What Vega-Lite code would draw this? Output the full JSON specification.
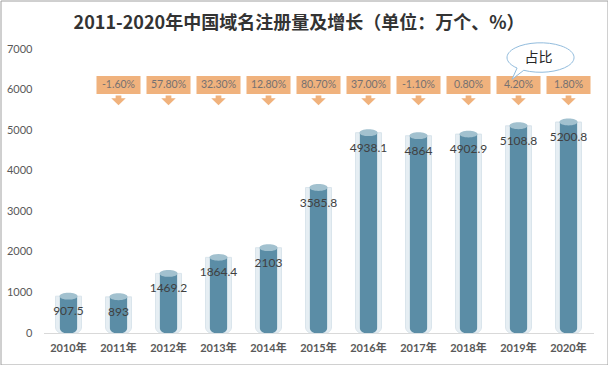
{
  "$schema": "https://vega.github.io/schema/vega-lite/v6.json",
  "width": 607,
  "height": 364,
  "autosize": {"type": "none"},
  "padding": 0.5,
  "background": "white",
  "config": {"view": {"stroke": "#A0A0A0", "strokeWidth": 1}, "font": "Lato"},
  "title": {
    "text": "2011-2020年中国域名注册量及增长（单位：万个、%）",
    "font": "Noto Sans CJK SC",
    "fontSize": 18,
    "fontWeight": "bold",
    "color": "#333333",
    "anchor": "middle",
    "frame": "group",
    "offset": -32,
    "dx": -5
  },
  "data": {
    "values": [
      {"year": "2010年", "value": 907.5, "growth": null},
      {"year": "2011年", "value": 893, "growth": "-1.60%"},
      {"year": "2012年", "value": 1469.2, "growth": "57.80%"},
      {"year": "2013年", "value": 1864.4, "growth": "32.30%"},
      {"year": "2014年", "value": 2103, "growth": "12.80%"},
      {"year": "2015年", "value": 3585.8, "growth": "80.70%"},
      {"year": "2016年", "value": 4938.1, "growth": "37.00%"},
      {"year": "2017年", "value": 4864, "growth": "-1.10%"},
      {"year": "2018年", "value": 4902.9, "growth": "0.80%"},
      {"year": "2019年", "value": 5108.8, "growth": "4.20%"},
      {"year": "2020年", "value": 5200.8, "growth": "1.80%"}
    ]
  },
  "encoding": {
    "x": {
      "field": "year",
      "type": "nominal",
      "sort": null,
      "scale": {"range": [43, 593], "paddingInner": 0, "paddingOuter": 0},
      "axis": {
        "orient": "bottom",
        "offset": -31.5,
        "title": null,
        "domainColor": "#D9D9D9",
        "ticks": false,
        "tickSize": 0,
        "labelPadding": 9,
        "labelAngle": 0,
        "labelFont": "Lato, Noto Sans CJK SC",
        "labelFontSize": 11,
        "labelFontWeight": "bold",
        "labelColor": "#595959"
      }
    }
  },
  "layer": [
    {
      "mark": {"type": "bar", "width": 26, "color": "#E6EEF3", "stroke": "#DAE5EC", "strokeWidth": 1, "cornerRadiusBottomLeft": 6, "cornerRadiusBottomRight": 6},
      "encoding": {
        "y": {
          "field": "value",
          "type": "quantitative",
          "scale": {"domain": [0, 7000], "range": [332.5, 48.5], "nice": false, "zero": true},
          "axis": {
            "orient": "left",
            "offset": -33.5,
            "title": null,
            "domain": false,
            "ticks": false,
            "tickSize": 0,
            "grid": false,
            "labelPadding": 2,
            "format": "d",
            "values": [0, 1000, 2000, 3000, 4000, 5000, 6000, 7000],
            "labelFont": "Lato",
            "labelFontSize": 11,
            "labelColor": "#595959"
          }
        }
      }
    },
    {
      "mark": {"type": "bar", "width": 18, "color": "#5B8DA6", "cornerRadiusBottomLeft": 6, "cornerRadiusBottomRight": 6},
      "encoding": {"y": {"field": "value", "type": "quantitative"}}
    },
    {
      "mark": {"type": "point", "shape": "M -1 0 A 1 0.38 0 1 1 1 0 A 1 0.38 0 1 1 -1 0 Z", "filled": true, "color": "#A2C1CF", "opacity": 1, "size": 324},
      "encoding": {"y": {"field": "value", "type": "quantitative"}}
    },
    {
      "mark": {"type": "text", "dy": 15, "baseline": "middle", "fontSize": 12, "font": "Lato", "color": "#404040"},
      "encoding": {
        "y": {"field": "value", "type": "quantitative"},
        "text": {"field": "value", "type": "nominal"}
      }
    },
    {
      "transform": [{"filter": "datum.growth != null"}],
      "mark": {"type": "point", "shape": "M -1 -0.41 L 1 -0.41 L 1 0.41 L -1 0.41 Z M -0.13 0.48 L 0.13 0.48 L 0.13 0.6 L 0.33 0.6 L 0 0.92 L -0.33 0.6 L -0.13 0.6 Z", "filled": true, "color": "#F0B27D", "opacity": 1, "size": 1936},
      "encoding": {"y": {"datum": 6112, "type": "quantitative"}}
    },
    {
      "transform": [{"filter": "datum.growth != null"}],
      "mark": {"type": "text", "baseline": "middle", "fontSize": 10.5, "font": "Lato", "color": "#767171"},
      "encoding": {
        "y": {"datum": 6112, "type": "quantitative"},
        "text": {"field": "growth", "type": "nominal"}
      }
    },
    {
      "data": {"values": [{"year": "2019年", "note": "占比"}]},
      "mark": {"type": "point", "shape": "M -0.7 0.314 A 1 0.44 0 1 1 -0.5 0.381 L -0.85 0.65 Z", "filled": true, "fill": "white", "stroke": "#92BCDD", "strokeWidth": 1, "opacity": 1, "size": 4489, "xOffset": 22},
      "encoding": {"y": {"datum": 6790, "type": "quantitative"}}
    },
    {
      "data": {"values": [{"year": "2019年", "note": "占比"}]},
      "mark": {"type": "text", "baseline": "middle", "fontSize": 14, "font": "Noto Sans CJK SC", "color": "#262626", "xOffset": 20},
      "encoding": {
        "y": {"datum": 6790, "type": "quantitative"},
        "text": {"field": "note", "type": "nominal"}
      }
    }
  ]
}
